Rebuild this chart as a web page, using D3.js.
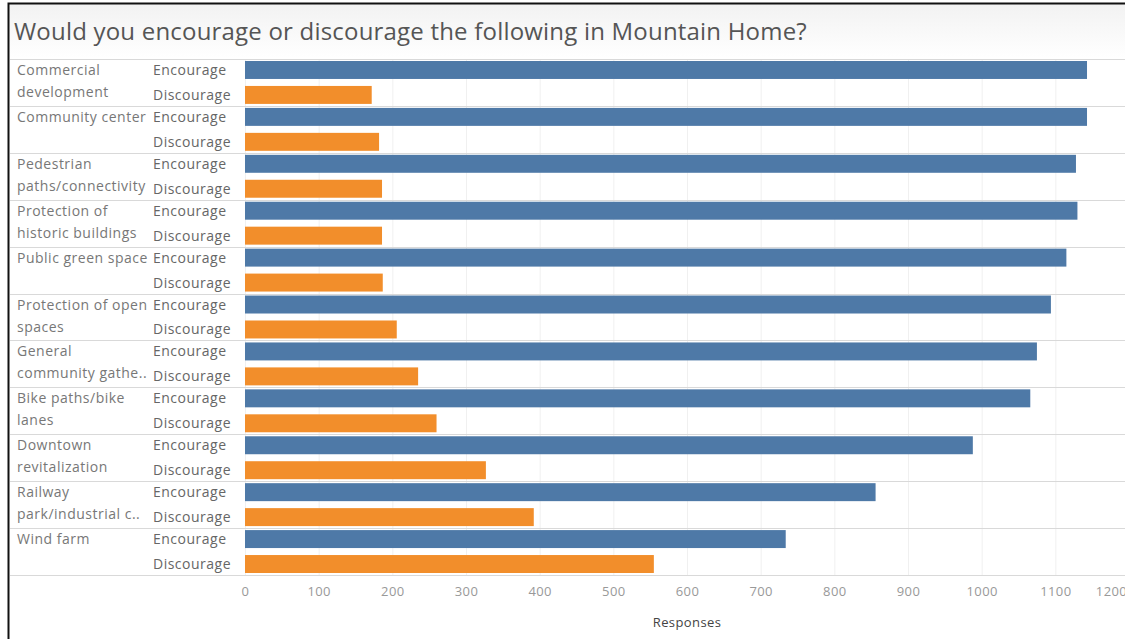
<!DOCTYPE html>
<html>
  <head>
    <meta charset="utf-8">
    <script src="https://d3js.org/d3.v7.min.js"></script>
    <style>
      body { margin: 0; background: #fff; }
      svg { font-family: "Open Sans", "Noto Sans", sans-serif; }
    </style>
  </head>
<body>
<script>
  // data
  var categories = ["Commercial development", "Community center", "Pedestrian paths/connectivity",
    "Protection of historic buildings", "Public green space", "Protection of open spaces",
    "General community gathering", "Bike paths/bike lanes", "Downtown revitalization",
    "Railway park/industrial corridor", "Wind farm"];
  var catLabels = [["Commercial", "development"], ["Community center"], ["Pedestrian", "paths/connectivity"],
    ["Protection of", "historic buildings"], ["Public green space"], ["Protection of open", "spaces"],
    ["General", "community gathe.."], ["Bike paths/bike", "lanes"], ["Downtown", "revitalization"],
    ["Railway", "park/industrial c.."], ["Wind farm"]];
  var answers = ["Encourage", "Discourage"];
  var encourage = [1143, 1143, 1128, 1130, 1115, 1094, 1075, 1066, 988, 856, 734];
  var discourage = [172, 182, 186, 186, 187, 206, 235, 260, 327, 392, 555];
  var ticks = [0, 100, 200, 300, 400, 500, 600, 700, 800, 900, 1000, 1100, 1200];

  var W = 1125, H = 639;
  var svg = d3.select("body").append("svg").attr("width", W).attr("height", H);

  var grad = svg.append("defs").append("linearGradient").attr("id", "hdr")
    .attr("x1", 0).attr("x2", 0).attr("y1", 0).attr("y2", 1);
  grad.append("stop").attr("offset", 0).attr("stop-color", "#f2f2f2");
  grad.append("stop").attr("offset", 1).attr("stop-color", "#fff");

  // frame + header band
  svg.append("rect").attr("x", 0).attr("y", 0).attr("width", W).attr("height", H).attr("fill", "#fff");
  svg.append("rect").attr("x", 9).attr("y", 4).attr("width", W).attr("height", 54).attr("fill", "url(#hdr)");
  svg.append("path").attr("d", "M8.5," + H + "V3.5H" + W).attr("fill", "none")
    .attr("stroke", "#111").attr("stroke-width", 2);

  svg.append("text").attr("x", 14).attr("y", 40)
    .attr("font-size", 24).attr("fill", "#555").attr("letter-spacing", 0.2)
    .text("Would you encourage or discourage the following in Mountain Home?");

  var plotTop = 59, plotBottom = 575;
  var x = d3.scaleLinear().domain([0, 1200]).range([245, 1129]);
  var y = d3.scaleBand().domain(categories).range([plotTop, plotBottom]);
  var y2 = d3.scaleBand().domain(answers).range([0, y.bandwidth()]).paddingInner(0.28).paddingOuter(0.08);

  // vertical grid
  svg.append("g").selectAll("line").data(ticks).join("line")
    .attr("x1", d => x(d) + 0.5).attr("x2", d => x(d) + 0.5)
    .attr("y1", plotTop).attr("y2", plotBottom)
    .attr("stroke", "#f0f0f0");

  // row separators
  svg.append("g").selectAll("line").data(d3.range(categories.length + 1)).join("line")
    .attr("x1", 10).attr("x2", W)
    .attr("y1", i => Math.round(plotTop + i * y.bandwidth()) + 0.5)
    .attr("y2", i => Math.round(plotTop + i * y.bandwidth()) + 0.5)
    .attr("stroke", "#d9d9d9");

  var rows = svg.append("g").selectAll("g").data(categories).join("g")
    .attr("transform", d => "translate(0," + y(d) + ")");

  rows.append("text").attr("x", 17).attr("y", 16)
    .attr("font-size", 14).attr("letter-spacing", 0.5).attr("fill", "#777")
    .selectAll("tspan").data((d, i) => catLabels[i]).join("tspan")
      .attr("x", 17).attr("dy", (d, j) => j ? 22 : 0)
      .text(d => d);

  answers.forEach(function (a, k) {
    var vals = k === 0 ? encourage : discourage;
    rows.append("text")
      .attr("x", 153).attr("y", y2(a) + y2.bandwidth() / 2 + 5)
      .attr("font-size", 14).attr("letter-spacing", 0.5).attr("fill", "#666")
      .text(a);
    rows.append("rect")
      .attr("x", x(0)).attr("y", y2(a))
      .attr("width", (d, i) => x(vals[i]) - x(0))
      .attr("height", y2.bandwidth())
      .attr("fill", k === 0 ? "#4e79a7" : "#f28e2b");
  });

  // axis
  var axis = svg.append("g").attr("transform", "translate(0," + plotBottom + ")")
    .call(d3.axisBottom(x).tickValues(ticks).tickFormat(d3.format("d")).tickSize(0).tickPadding(12));
  axis.select(".domain").remove();
  axis.selectAll("text").attr("font-size", 13).attr("letter-spacing", 0.4).attr("fill", "#999")
    .attr("font-family", "\"Open Sans\", \"Noto Sans\", sans-serif");
  // last label pulled in like the source does
  axis.selectAll("text").filter(d => d === 1200).attr("dx", -18);

  svg.append("text").attr("x", x(600)).attr("y", 627)
    .attr("text-anchor", "middle").attr("font-size", 13).attr("letter-spacing", 0.4).attr("fill", "#444")
    .text("Responses");
</script>
</body>
</html>
